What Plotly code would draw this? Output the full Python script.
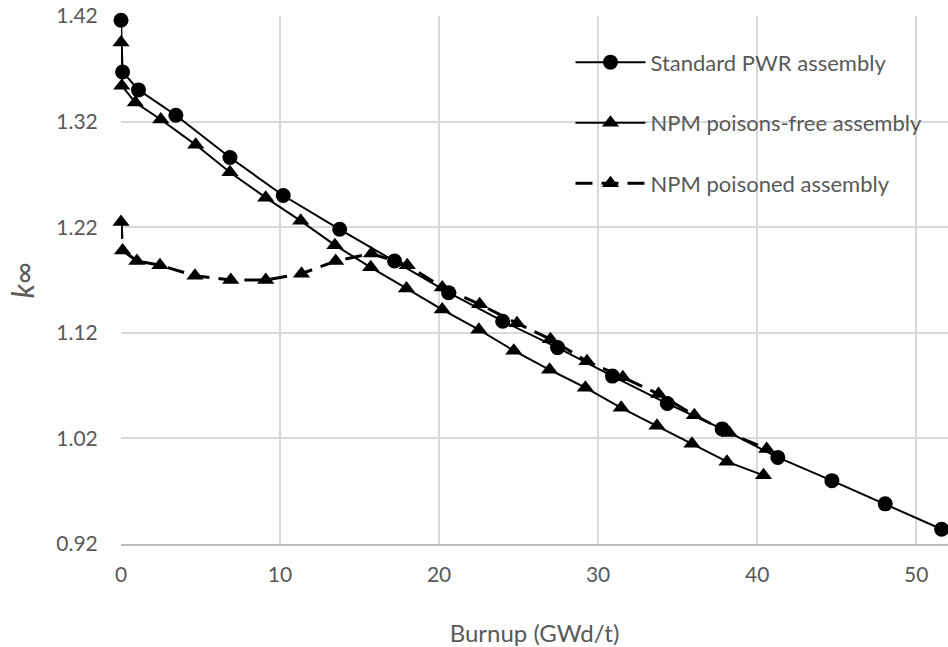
import plotly.graph_objects as go

########## DATA ##########
# Standard PWR assembly
std_burnup = [0, 0.1, 1.1, 3.45, 6.85, 10.2, 13.75, 17.2, 20.6, 24.0, 27.45, 30.9,
              34.35, 37.8, 41.3, 44.7, 48.05, 51.6]
std_k = [1.416, 1.367, 1.350, 1.326, 1.286, 1.250, 1.218, 1.188, 1.158, 1.131, 1.106,
         1.079, 1.053, 1.029, 1.002, 0.980, 0.958, 0.934]

# NPM poisons-free assembly
free_burnup = [0, 0.05, 0.9, 2.5, 4.7, 6.85, 9.1, 11.3, 13.45, 15.7, 17.95, 20.2,
               22.5, 24.7, 26.95, 29.2, 31.45, 33.7, 35.9, 38.1, 40.4]
free_k = [1.395, 1.354, 1.338, 1.322, 1.298, 1.272, 1.248, 1.226, 1.203, 1.182, 1.162,
          1.142, 1.123, 1.103, 1.085, 1.068, 1.049, 1.032, 1.015, 0.998, 0.985]

# NPM poisoned assembly
pois_burnup = [0, 0.1, 1.0, 2.45, 4.65, 6.9, 9.1, 11.35, 13.5, 15.75, 18.0, 20.2,
               22.55, 24.9, 27.0, 29.3, 31.55, 33.8, 36.05, 38.25, 40.6]
pois_k = [1.225, 1.198, 1.188, 1.184, 1.174, 1.170, 1.170, 1.176, 1.188, 1.195, 1.184,
          1.163, 1.147, 1.129, 1.114, 1.093, 1.078, 1.062, 1.042, 1.025, 1.010]

y_ticks = [0.92, 1.02, 1.12, 1.22, 1.32, 1.42]
x_ticks = [0, 10, 20, 30, 40, 50]

########## PLOT ##########
txt = '#595959'
grid = '#d9d9d9'

fig = go.Figure()

fig.add_trace(go.Scatter(x=std_burnup, y=std_k, name='Standard PWR assembly',
                         mode='lines+markers', legendgroup='a', cliponaxis=False,
                         line=dict(color='black', width=2),
                         marker=dict(symbol='circle', size=15, color='black')))
fig.add_trace(go.Scatter(x=free_burnup, y=free_k, name='NPM poisons-free assembly',
                         mode='lines+markers', legendgroup='b', cliponaxis=False,
                         line=dict(color='black', width=2),
                         marker=dict(symbol='triangle-up', size=15, color='black')))
fig.add_trace(go.Scatter(x=pois_burnup, y=pois_k, name='NPM poisoned assembly',
                         mode='lines+markers', legendgroup='c', cliponaxis=False,
                         line=dict(color='black', width=3, dash='17px,9px'),
                         marker=dict(symbol='triangle-up', size=15, color='black')))

fig.update_layout(
    width=948, height=647,
    margin=dict(l=121, r=0, t=16, b=103, autoexpand=False),
    plot_bgcolor='white', paper_bgcolor='white',
    font=dict(family='Lato', size=21, color=txt),
    showlegend=True,
    legend=dict(x=0.5435, y=0.952, xanchor='left', yanchor='top',
                bgcolor='rgba(0,0,0,0)', tracegroupgap=29, itemwidth=70,
                font=dict(size=22, color=txt)),
    xaxis=dict(range=[0, 52], tickvals=x_ticks, showgrid=True, gridcolor=grid,
               gridwidth=1.5, zeroline=False, showline=True, linecolor='#bfbfbf',
               linewidth=1.5, ticks='outside', ticklen=11, tickcolor='rgba(0,0,0,0)',
               title=dict(text='Burnup (GWd/t)', standoff=41, font=dict(size=24))),
    yaxis=dict(range=[0.92, 1.42], tickvals=y_ticks, tickformat='.2f', showgrid=True,
               gridcolor=grid, gridwidth=1.5, zeroline=False, showline=False,
               ticks='outside', ticklen=18, tickcolor='rgba(0,0,0,0)',
               ticklabeloverflow='allow',
               title=dict(text='<i>k</i>∞', standoff=12, font=dict(size=30))),
)

# drop the default 8px body margin so the figure sits flush in the window
fig.write_html("out.html", config={'displayModeBar': False},
               post_script="document.body.style.margin='0px';")
